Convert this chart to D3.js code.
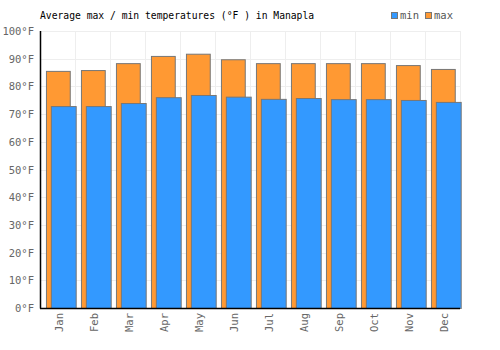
<!DOCTYPE html>
<html>
<head>
<meta charset="utf-8">
<script src="https://cdn.jsdelivr.net/npm/d3@7"></script>
<style>
  body { margin: 0; background: #fff; }
  svg text { font-family: "DejaVu Sans Mono", monospace; font-size: 9.7px; }
  .grid line { stroke: #eeeeee; stroke-width: 1; }
  .tick-label { fill: #666; }
</style>
</head>
<body>
<div id="chart"></div>
<script>
  const months = ["Jan","Feb","Mar","Apr","May","Jun","Jul","Aug","Sep","Oct","Nov","Dec"];
  const maxTemps = [85.6, 85.9, 88.4, 91.0, 91.8, 89.8, 88.4, 88.4, 88.4, 88.4, 87.7, 86.3];
  const minTemps = [72.9, 72.9, 74.0, 76.1, 76.9, 76.3, 75.5, 75.8, 75.4, 75.4, 75.1, 74.4];
  const yTicks = [0, 10, 20, 30, 40, 50, 60, 70, 80, 90, 100];

  const width = 500, height = 350;
  const margin = {top: 31, right: 40, bottom: 42, left: 40};
  const innerW = width - margin.left - margin.right;
  const innerH = height - margin.top - margin.bottom;

  const svg = d3.select("#chart").append("svg")
    .attr("width", width)
    .attr("height", height);

  const g = svg.append("g")
    .attr("transform", "translate(" + margin.left + "," + margin.top + ")");

  const x = d3.scaleBand().domain(months).range([0, innerW]);
  const y = d3.scaleLinear().domain([0, 100]).range([innerH, 0]);

  // grid
  const grid = g.append("g").attr("class", "grid");
  grid.selectAll(".h").data(yTicks).enter().append("line")
    .attr("x1", 0).attr("x2", innerW)
    .attr("y1", d => Math.round(y(d)) + 0.5).attr("y2", d => Math.round(y(d)) + 0.5);
  grid.selectAll(".v").data(months).enter().append("line")
    .attr("x1", d => Math.round(x(d) + x.bandwidth()) + 0.5)
    .attr("x2", d => Math.round(x(d) + x.bandwidth()) + 0.5)
    .attr("y1", 0).attr("y2", innerH);

  // bars
  const bw = x.bandwidth();
  g.selectAll(".max").data(months).enter().append("rect")
    .attr("x", (d, i) => x(d) + bw * 0.17 + 0.5)
    .attr("width", bw * 0.68)
    .attr("y", (d, i) => y(maxTemps[i]) + 0.5)
    .attr("height", (d, i) => innerH - y(maxTemps[i]))
    .attr("fill", "#ff9933")
    .attr("stroke", "#777").attr("stroke-width", 1);

  g.selectAll(".min").data(months).enter().append("rect")
    .attr("x", (d, i) => x(d) + bw * 0.31 + 0.5)
    .attr("width", bw * 0.71)
    .attr("y", (d, i) => y(minTemps[i]) + 0.5)
    .attr("height", (d, i) => innerH - y(minTemps[i]))
    .attr("fill", "#3399ff")
    .attr("stroke", "#777").attr("stroke-width", 1);

  // axes
  g.append("line")
    .attr("x1", 0.5).attr("x2", 0.5).attr("y1", 0).attr("y2", innerH + 0.5)
    .attr("stroke", "#000").attr("stroke-width", 1.5);
  g.append("line")
    .attr("x1", 0).attr("x2", innerW).attr("y1", innerH + 0.5).attr("y2", innerH + 0.5)
    .attr("stroke", "#000").attr("stroke-width", 1.5);

  g.selectAll(".ylab").data(yTicks).enter().append("text")
    .attr("class", "tick-label")
    .attr("x", -6)
    .attr("y", d => y(d) + 4)
    .attr("text-anchor", "end")
    .style("font-size", "10.5px")
    .text(d => d + "°F");

  g.selectAll(".xlab").data(months).enter().append("text")
    .attr("class", "tick-label")
    .attr("text-anchor", "end")
    .attr("transform", d => "translate(" + (x(d) + bw / 2 + 5) + "," + (innerH + 5) + ") rotate(-90)")
    .style("font-size", "10.5px")
    .text(d => d);

  // title
  svg.append("text")
    .attr("x", 40).attr("y", 19)
    .attr("fill", "#000")
    .text("Average max / min temperatures (°F ) in Manapla");

  // legend
  const legend = [{name: "min", color: "#3399ff", x: 391}, {name: "max", color: "#ff9933", x: 425}];
  const lg = svg.append("g");
  lg.selectAll("rect").data(legend).enter().append("rect")
    .attr("x", d => d.x + 0.5).attr("y", 12.5)
    .attr("width", 6).attr("height", 6)
    .attr("fill", d => d.color)
    .attr("stroke", "#777");
  lg.selectAll("text").data(legend).enter().append("text")
    .attr("x", d => d.x + 9).attr("y", 19)
    .attr("fill", "#555")
    .style("font-size", "10.5px")
    .text(d => d.name);
</script>
</body>
</html>
